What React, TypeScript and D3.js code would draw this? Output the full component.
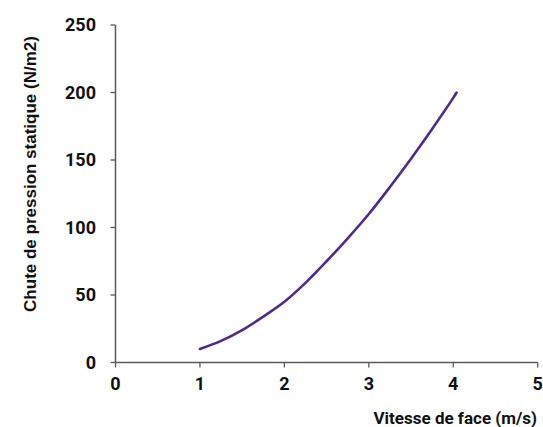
import React from "react";
import * as d3 from "d3";

const velocity = [1, 1.25, 1.5, 1.75, 2, 2.25, 2.5, 2.75, 3, 3.25, 3.5, 3.75, 4, 4.04];
const pressureDrop = [10, 16, 24, 34, 45, 59, 75, 92, 110, 130, 151, 173, 196, 200];
const xTicks = [0, 1, 2, 3, 4, 5];
const yTicks = [0, 50, 100, 150, 200, 250];
const xTitle = "Vitesse de face (m/s)";
const yTitle = "Chute de pression statique (N/m2)";

const W = 543;
const H = 427;

export default function App() {
  const x = d3.scaleLinear().domain([0, 5]).range([115.5, 537.7]);
  const y = d3.scaleLinear().domain([0, 250]).range([362.5, 25]);
  const pts = velocity.map((v, i) => [v, pressureDrop[i]] as [number, number]);
  const line = d3
    .line<[number, number]>()
    .x((d) => x(d[0]))
    .y((d) => y(d[1]))
    .curve(d3.curveCatmullRom.alpha(0.5));
  const axisColor = "#5a5a5a";
  const tickFont = "Roboto, 'Liberation Sans', sans-serif";
  return (
    <svg
      width={W}
      height={H}
      style={{ position: "absolute", left: 0, top: 0, background: "#fff" }}
    >
      <line x1={x(0)} x2={x(0)} y1={y(250)} y2={y(0)} stroke={axisColor} strokeWidth={1.5} />
      {yTicks.map((t) => (
        <g key={"y" + t}>
          <line x1={x(0) - 5} x2={x(0)} y1={y(t)} y2={y(t)} stroke={axisColor} strokeWidth={1.3} />
          <text
            x={96}
            y={y(t)}
            dy="0.35em"
            textAnchor="end"
            fontFamily={tickFont}
            fontWeight="bold"
            fontSize={18}
            fill="#111"
          >
            {t}
          </text>
        </g>
      ))}
      <line x1={x(0)} x2={x(5)} y1={y(0)} y2={y(0)} stroke={axisColor} strokeWidth={1.5} />
      {xTicks.map((t) => (
        <g key={"x" + t}>
          <line x1={x(t)} x2={x(t)} y1={y(0)} y2={y(0) + 5} stroke={axisColor} strokeWidth={1.3} />
          <text
            x={x(t)}
            y={390}
            textAnchor="middle"
            fontFamily={tickFont}
            fontWeight="bold"
            fontSize={18}
            fill="#111"
          >
            {t}
          </text>
        </g>
      ))}
      <path d={line(pts) || ""} fill="none" stroke="#4f2a8e" strokeWidth={2.6} strokeLinecap="round" />
      <text
        x={537}
        y={424}
        textAnchor="end"
        fontFamily={tickFont}
        fontWeight="bold"
        fontSize={17}
        fill="#111"
      >
        {xTitle}
      </text>
      <text
        transform={`translate(36,174) rotate(-90)`}
        textAnchor="middle"
        fontFamily="'Liberation Sans', Arial, sans-serif"
        fontWeight="bold"
        fontSize={17}
        fill="#111"
      >
        {yTitle}
      </text>
    </svg>
  );
}
